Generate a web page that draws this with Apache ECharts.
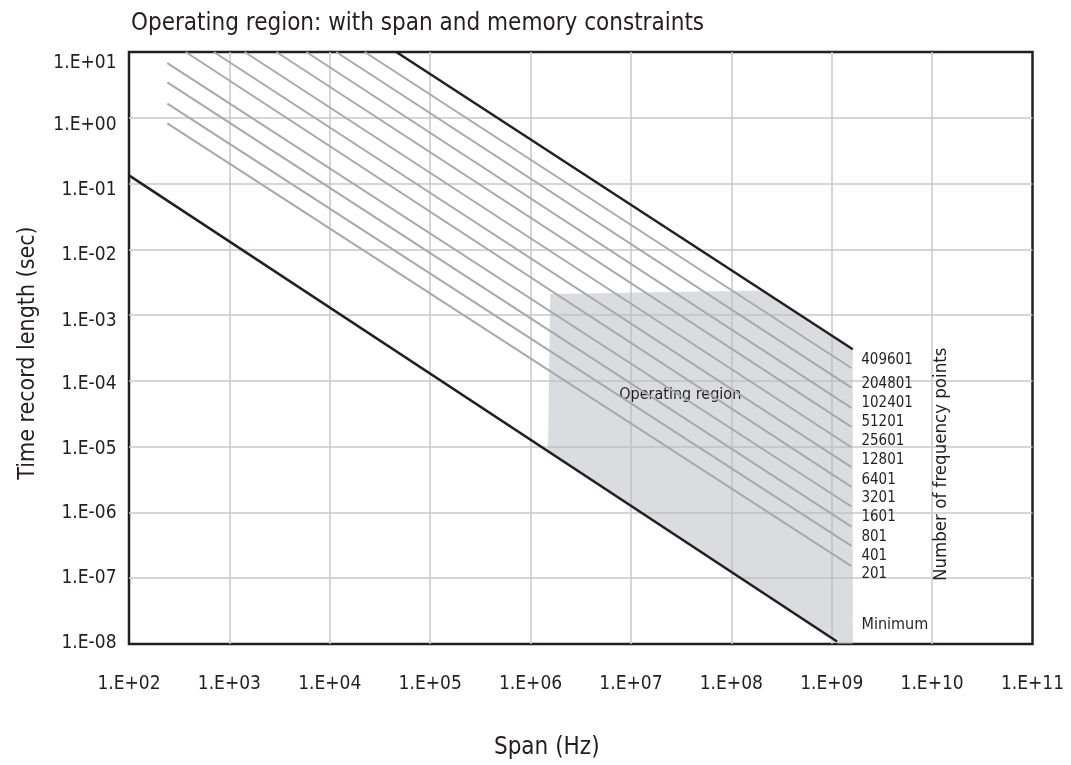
<!DOCTYPE html>
<html>
<head>
<meta charset="utf-8">
<title>Operating region</title>
<script src="https://cdn.jsdelivr.net/npm/echarts@6.0.0/dist/echarts.min.js"></script>
<style>
  html, body { margin: 0; padding: 0; background: #fff; }
  #chart_region { width: 1071px; height: 765px; }
</style>
</head>
<body>
<div id="chart_region"></div>
<script>
// tick labels
const xTickLabels = ['1.E+02', '1.E+03', '1.E+04', '1.E+05', '1.E+06', '1.E+07', '1.E+08', '1.E+09', '1.E+10', '1.E+11'];
const yTickLabels = ['1.E-08', '1.E-07', '1.E-06', '1.E-05', '1.E-04', '1.E-03', '1.E-02', '1.E-01', '1.E+00', '1.E+01'];

// number of frequency points, one grey line each: [span Hz, time s]
const pointLabels = ['204801', '102401', '51201', '25601', '12801', '6401', '3201', '1601', '801', '401', '201'];
const lineStart = [[22300, 10], [11600, 10], [5850, 10], [2940, 10], [1420, 10], [700, 10], [367, 10],
  [241, 6.76], [241, 3.46], [241, 1.64], [241, 0.82]];
const lineEnd = [[1.57e9, 1.57e-4], [1.57e9, 7.9e-5], [1.57e9, 3.9e-5], [1.57e9, 2.0e-5], [1.57e9, 9.8e-6],
  [1.57e9, 4.9e-6], [1.57e9, 2.45e-6], [1.57e9, 1.23e-6], [1.57e9, 6.1e-7], [1.57e9, 3.1e-7], [1.57e9, 1.53e-7]];

// black limits
const maxLabel = '409601';
const maxLine = [[46000, 10], [1.62e9, 3.02e-4]];
const minLabel = 'Minimum';
const minLine = [[100, 0.133], [1.13e9, 1.09e-8]];

// operating region outline
const regionSpan = [1.57e6, 2.05e8, 1.62e9, 1.62e9, 1.15e9, 1.49e6];
const regionTime = [2.09e-3, 2.36e-3, 3.02e-4, 1e-8, 1e-8, 8.5e-6];
const regionText = 'Operating region';
const regionTextAt = [3.1e7, 6.2e-5];
const pointsTitle = 'Number of frequency points';
const pointsTitleAt = [1.23e10, 5.4e-6];

// styling
const FONT = '"DejaVu Sans Condensed", "Liberation Sans Narrow", sans-serif';
const INK = '#231f20';
const labelShift = [16.3, 15.2, 14.8, 14.6, 13, 13, 11.7, 10.8, 10.6, 10.1, 8.4];
const yLabelShift = [-1.3, 0.1, 0.5, 2.3, 3.3, 5.7, 6.1, 6.9, 7.6, 11.3];

function getEchart() {
  let myChart = echarts.init(document.getElementById('chart_region'));

  let yRich = {};
  yLabelShift.forEach((s, i) => {
    yRich['l' + i] = {
      fontFamily: FONT,
      fontSize: 19,
      color: INK,
      padding: s > 0 ? [2 * s, 0, 0, 0] : [0, 0, -2 * s, 0]
    };
  });

  let series = [{
    name: 'region',
    type: 'custom',
    z: 1,
    silent: true,
    data: [[regionSpan[0], regionTime[0]]],
    renderItem: (params, api) => {
      let pts = regionSpan.map((s, i) => api.coord([s, regionTime[i]]));
      let t1 = api.coord(regionTextAt);
      let t2 = api.coord(pointsTitleAt);
      return {
        type: 'group',
        children: [{
          type: 'polygon',
          shape: { points: pts },
          style: { fill: 'rgba(186, 188, 194, 0.52)' }
        }, {
          type: 'text',
          x: t1[0],
          y: t1[1],
          style: {
            text: regionText, fill: INK, fontSize: 16, fontFamily: FONT,
            align: 'center', verticalAlign: 'middle'
          }
        }, {
          type: 'text',
          x: t2[0],
          y: t2[1],
          rotation: Math.PI / 2,
          style: {
            text: pointsTitle, fill: INK, fontSize: 18.5, fontFamily: FONT,
            align: 'center', verticalAlign: 'middle'
          }
        }]
      };
    }
  }];

  pointLabels.forEach((p, i) => {
    series.push({
      name: p,
      type: 'line',
      z: 2,
      silent: true,
      showSymbol: false,
      data: [lineStart[i], lineEnd[i]],
      lineStyle: { color: '#a7a9ac', width: 2 },
      endLabel: {
        show: true,
        formatter: p,
        distance: 0,
        offset: [10, labelShift[i]],
        color: INK,
        fontSize: 15,
        fontFamily: FONT
      }
    });
  });

  series.push({
    name: maxLabel,
    type: 'line',
    z: 3,
    silent: true,
    showSymbol: false,
    data: maxLine,
    lineStyle: { color: INK, width: 2.5 },
    endLabel: {
      show: true, formatter: maxLabel, distance: 0, offset: [8.5, 11],
      color: INK, fontSize: 15, fontFamily: FONT
    }
  }, {
    name: minLabel,
    type: 'line',
    z: 3,
    silent: true,
    showSymbol: false,
    data: minLine,
    lineStyle: { color: INK, width: 2.5 },
    endLabel: {
      show: true, formatter: minLabel, distance: 0, offset: [24.5, -16.5],
      color: INK, fontSize: 16, fontFamily: FONT
    }
  });

  let option = {
    animation: false,
    backgroundColor: '#fff',
    title: {
      text: 'Operating region: with span and memory constraints',
      left: 126,
      top: 7,
      textStyle: { fontFamily: FONT, fontSize: 24, fontWeight: 'normal', color: INK }
    },
    grid: {
      left: 129,
      top: 52,
      right: 38.5,
      bottom: 115,
      show: true,
      borderColor: INK,
      borderWidth: 2.5,
      backgroundColor: 'transparent'
    },
    xAxis: {
      type: 'log',
      logBase: 10,
      min: 1e2,
      max: 1e11,
      name: 'Span (Hz)',
      nameLocation: 'middle',
      nameGap: 92,
      nameTextStyle: { fontFamily: FONT, fontSize: 24, color: INK, padding: [0, 68, 0, 0] },
      axisLine: { show: false },
      axisTick: { show: false },
      splitLine: { show: true, showMinLine: false, showMaxLine: false, lineStyle: { color: '#c8c8ca', width: 1.5 } },
      axisLabel: {
        margin: 31,
        fontFamily: FONT,
        fontSize: 19,
        color: INK,
        formatter: (v) => xTickLabels[Math.round(Math.log10(v)) - 2]
      }
    },
    yAxis: {
      type: 'log',
      logBase: 10,
      min: 1e-8,
      max: 1e1,
      name: 'Time record length (sec)',
      nameLocation: 'middle',
      nameGap: 89,
      nameTextStyle: { fontFamily: FONT, fontSize: 23, color: INK, padding: [0, 10, 0, 0] },
      axisLine: { show: false },
      axisTick: { show: false },
      splitLine: { show: true, showMinLine: false, showMaxLine: false, lineStyle: { color: '#c8c8ca', width: 1.5 } },
      axisLabel: {
        margin: 12.5,
        fontFamily: FONT,
        fontSize: 19,
        color: INK,
        rich: yRich,
        formatter: (v) => {
          let i = Math.round(Math.log10(v)) + 8;
          return '{l' + i + '|' + yTickLabels[i] + '}';
        }
      }
    },
    series: series
  };

  myChart.setOption(option, true);

  window.addEventListener('resize', () => {
    myChart.resize();
  });
}

getEchart();
</script>
</body>
</html>
